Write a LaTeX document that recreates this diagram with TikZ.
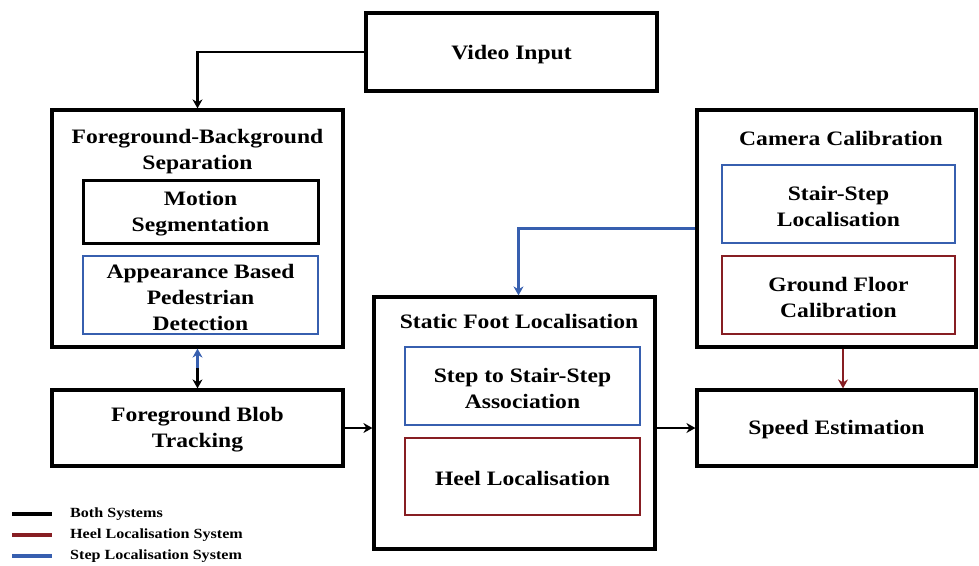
\documentclass[tikz,border=0pt]{standalone}
\usepackage{fontspec}
\setmainfont{Liberation Serif}[FakeStretch=1.15]
\usetikzlibrary{arrows.meta}
\definecolor{sblue}{RGB}{55,95,175}
\definecolor{hred}{RGB}{135,30,35}
\tikzset{
  outerbox/.style={draw=black, line width=3.2pt, rectangle, inner sep=0pt},
  innerblack/.style={draw=black, line width=3pt, rectangle, inner sep=0pt},
  innerblue/.style={draw=sblue, line width=1.9pt, rectangle, inner sep=0pt},
  innerred/.style={draw=hred, line width=2.3pt, rectangle, inner sep=0pt},
  lbl/.style={font=\bfseries\fontsize{20.5}{26}\selectfont, align=center, inner sep=0pt},
  leglbl/.style={font=\bfseries\fontsize{14}{16}\selectfont, anchor=west, inner sep=0pt},
  conn/.style={line width=2.9pt, -{Stealth[length=9pt,width=10pt]}},
  legline/.style={line width=3.2pt},
}
\begin{document}
\begin{tikzpicture}[x=1pt,y=-1pt]
\useasboundingbox (0,0) rectangle (979,565);
% boxes
\node[outerbox, minimum width=291, minimum height=78] (video) at (511.5,52) {};
\node[outerbox, minimum width=291, minimum height=237] (fbs) at (197.5,228.5) {};
\node[innerblack, minimum width=235, minimum height=63] (motion) at (200.5,211.5) {};
\node[innerblue, minimum width=235, minimum height=78] (appear) at (200.5,295) {};
\node[outerbox, minimum width=291, minimum height=76] (fbt) at (197.5,428) {};
\node[outerbox, minimum width=281, minimum height=252] (sfl) at (514.5,423) {};
\node[innerblue, minimum width=235, minimum height=78] (assoc) at (522.5,386) {};
\node[innerred, minimum width=235, minimum height=77] (heel) at (522.5,476.5) {};
\node[outerbox, minimum width=279, minimum height=237] (cam) at (836.5,228.5) {};
\node[innerblue, minimum width=233, minimum height=78] (stairloc) at (838.5,204) {};
\node[innerred, minimum width=233, minimum height=78] (ground) at (838.5,295) {};
\node[outerbox, minimum width=279, minimum height=76] (speed) at (836.5,428) {};
% texts
\node[lbl] (tvideo) at ([yshift=-3]video.center) {Video Input};
\node[lbl] (tfbs) at (197.5,152) {Foreground-Background\\Separation};
\node[lbl] (tmotion) at ([yshift=-2]motion.center) {Motion\\Segmentation};
\node[lbl] (tappear) at ([yshift=-2]appear.center) {Appearance Based\\Pedestrian\\Detection};
\node[lbl] (tfbt) at ([yshift=-2]fbt.center) {Foreground Blob\\Tracking};
\node[lbl] (tsfl) at (519,321) {Static Foot Localisation};
\node[lbl] (tassoc) at ([yshift=-2]assoc.center) {Step to Stair-Step\\Association};
\node[lbl] (theel) at ([yshift=-2]heel.center) {Heel Localisation};
\node[lbl] (tcam) at (841,138) {Camera Calibration};
\node[lbl] (tstair) at ([yshift=-2]stairloc.center) {Stair-Step\\Localisation};
\node[lbl] (tground) at ([yshift=-2]ground.center) {Ground Floor\\Calibration};
\node[lbl] (tspeed) at ([yshift=-2]speed.center) {Speed Estimation};
% connectors
\draw[conn] (video.west) -| (fbs.north);
\coordinate (mid) at (197.5,368);
\draw[conn, sblue] (mid) -- (fbs.south);
\draw[conn] (mid) -- (fbt.north);
\draw[conn] (fbt.east) -- (sfl.west |- fbt.east);
\draw[conn] (sfl.east |- speed.west) -- (speed.west);
\draw[conn, sblue, line width=2.4pt] (cam.west) -| ([xshift=4]sfl.north);
\draw[conn, hred, line width=2.4pt] ([xshift=6.5]cam.south) -- ([xshift=6.5]speed.north);
% legend
\coordinate (l1a) at (12,514); \coordinate (l1b) at (52,514);
\coordinate (l2a) at (12,535); \coordinate (l2b) at (52,535);
\coordinate (l3a) at (12,556); \coordinate (l3b) at (52,556);
\draw[legline, black] (l1a) -- (l1b);
\draw[legline, hred] (l2a) -- (l2b);
\draw[legline, sblue] (l3a) -- (l3b);
\node[leglbl] (g1) at (70,514) {Both Systems};
\node[leglbl] (g2) at (70,535) {Heel Localisation System};
\node[leglbl] (g3) at (70,556) {Step Localisation System};
\end{tikzpicture}
\end{document}
